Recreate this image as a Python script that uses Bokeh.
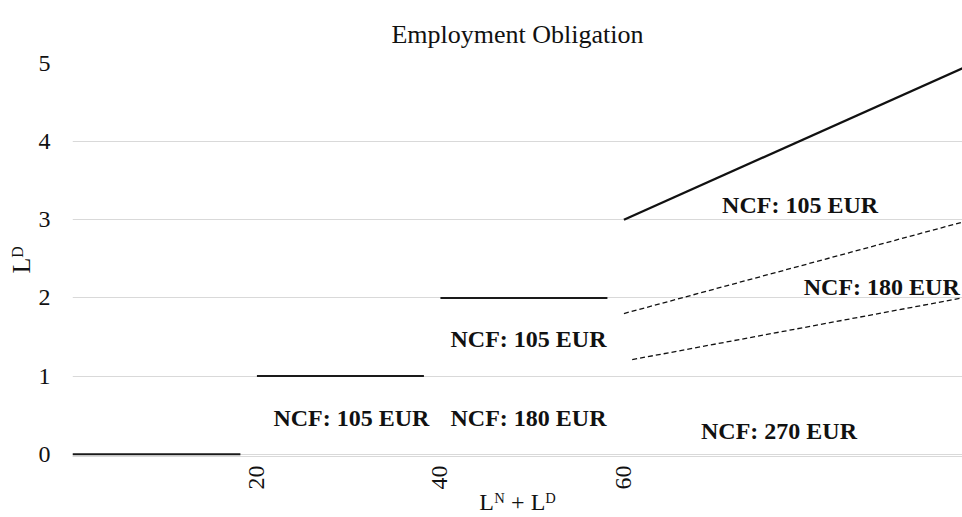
import math
from bokeh.plotting import figure
from bokeh.models import ColumnDataSource, Range1d, FixedTicker, Title
from bokeh.core.properties import value
from bokeh.embed import file_html
from bokeh.resources import INLINE

# ---- data ----
seg0_x = [0, 18.3]
seg0_y = [0, 0]
seg1_x = [20.1, 38.3]
seg1_y = [1, 1]
seg2_x = [40.1, 58.3]
seg2_y = [2, 2]
diag_x = [60.1, 97.0]
diag_y = [3.0, 4.94]
dash_hi_x = [60.1, 97.0]
dash_hi_y = [1.80, 2.97]
dash_lo_x = [61.0, 97.0]
dash_lo_y = [1.21, 2.00]

note_text = ["NCF: 105 EUR", "NCF: 180 EUR", "NCF: 105 EUR",
             "NCF: 270 EUR", "NCF: 105 EUR", "NCF: 180 EUR"]
note_x = [30.4, 49.7, 49.7, 77.0, 79.3, 88.2]
note_y = [0.46, 0.46, 1.47, 0.29, 3.19, 2.14]

x_ticks = [20, 40, 60]
y_ticks = [0, 1, 2, 3, 4, 5]

x_title = "L\u1d3a + L\u1d30"
y_title = "L\u1d30"

FONT = "Liberation Serif"

p = figure(width=962, height=517, output_backend="svg", toolbar_location=None,
           x_range=Range1d(0, 97), y_range=Range1d(-0.03, 5.0),
           min_border_left=72, min_border_right=0, min_border_top=63,
           min_border_bottom=56)
p.outline_line_color = None
p.background_fill_color = "white"
p.border_fill_color = "white"

p.title = Title(text="Employment Obligation", align="center", text_font=FONT,
                text_font_size="26px", text_font_style="normal", text_color="#111111",
                standoff=30)

# axes
p.xaxis.ticker = FixedTicker(ticks=x_ticks)
p.yaxis.ticker = FixedTicker(ticks=y_ticks)
for ax in (p.xaxis[0], p.yaxis[0]):
    ax.major_tick_line_color = None
    ax.minor_tick_line_color = None
    ax.major_label_text_font = FONT
    ax.major_label_text_font_size = "24px"
    ax.major_label_text_color = "#111111"
    ax.axis_label_text_font = FONT
    ax.axis_label_text_font_style = "normal"
    ax.axis_label_text_color = "#111111"
p.xaxis.axis_label = x_title
p.yaxis.axis_label = y_title
p.xaxis.axis_label_text_font_size = "24px"
p.yaxis.axis_label_text_font_size = "26px"
p.xaxis.axis_label_standoff = -4
p.yaxis.axis_label_standoff = 0
p.xaxis.axis_line_color = "#d9d9d9"
p.yaxis.axis_line_color = None
p.xaxis.major_label_orientation = math.pi / 2
p.xaxis.major_label_standoff = 3
p.yaxis.major_label_standoff = 16

p.xgrid.grid_line_color = None
p.ygrid.grid_line_color = "#d9d9d9"
p.ygrid.grid_line_width = 1

# lines
solid = dict(line_color="#1a1a1a", line_width=2)
p.line(seg0_x, seg0_y, **solid)
p.line(seg1_x, seg1_y, **solid)
p.line(seg2_x, seg2_y, **solid)
p.line(diag_x, diag_y, line_color="#111111", line_width=2.3)
p.line(dash_hi_x, dash_hi_y, line_color="#111111", line_width=1.3, line_dash="5 3")
p.line(dash_lo_x, dash_lo_y, line_color="#111111", line_width=1.3, line_dash="5 3")

src = ColumnDataSource(dict(x=note_x, y=note_y, text=note_text))
p.text(x="x", y="y", text="text", source=src, text_font=value(FONT),
       text_font_style="bold", text_font_size="24px", text_align="center",
       text_baseline="middle", text_color="#111111")

open("out.html", "w").write(file_html(p, INLINE))
